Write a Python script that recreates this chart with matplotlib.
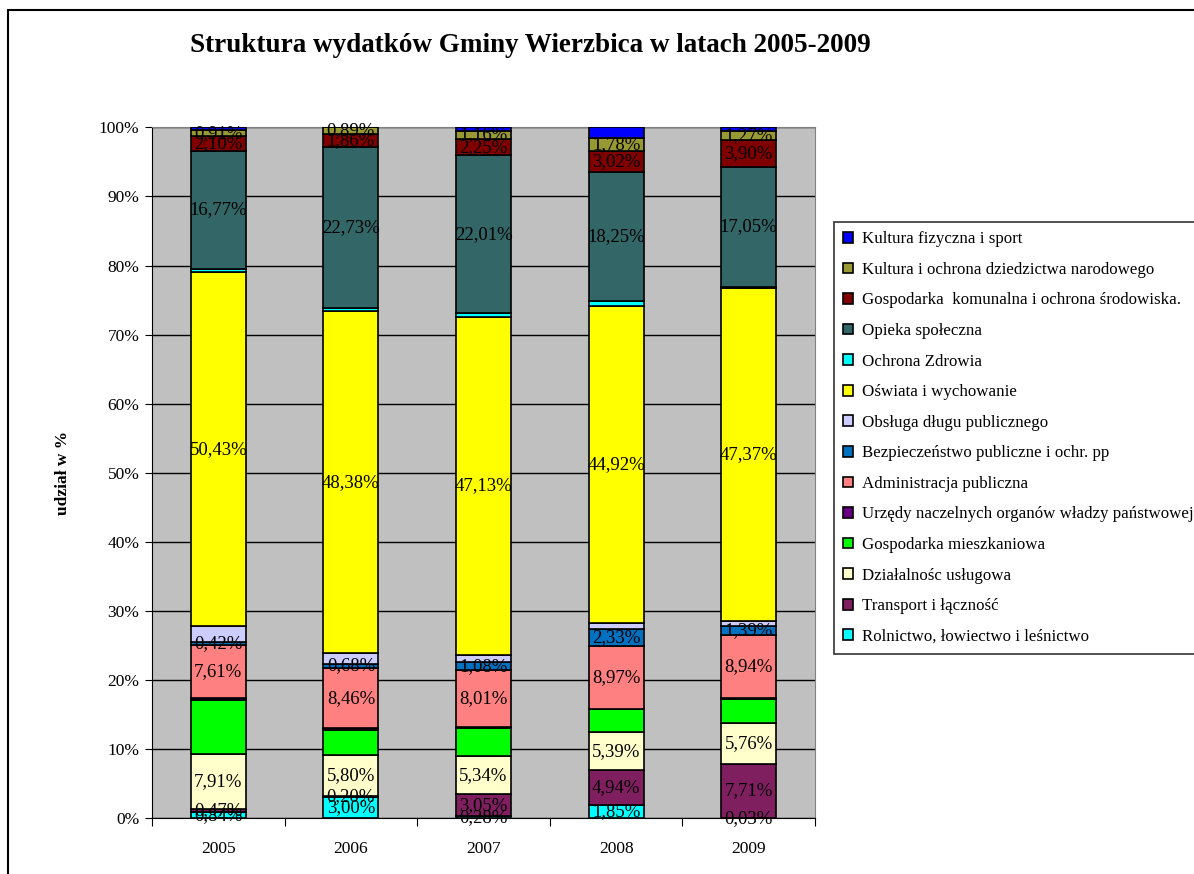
import matplotlib
matplotlib.use("Agg")
import matplotlib.pyplot as plt
from matplotlib.patches import Rectangle
import numpy as np

plt.rcParams['font.family'] = ['Liberation Serif', 'DejaVu Serif']

years = ['2005', '2006', '2007', '2008', '2009']

# series, bottom of the stack first
series = [
    'Rolnictwo, łowiectwo i leśnictwo',
    'Transport i łączność',
    'Działalnośc usługowa',
    'Gospodarka mieszkaniowa',
    'Urzędy naczelnych organów władzy państwowej',
    'Administracja publiczna',
    'Bezpieczeństwo publiczne i ochr. pp',
    'Obsługa długu publicznego',
    'Oświata i wychowanie',
    'Ochrona Zdrowia',
    'Opieka społeczna',
    'Gospodarka  komunalna i ochrona środowiska.',
    'Kultura i ochrona dziedzictwa narodowego',
    'Kultura fizyczna i sport',
]

rolnictwo = [0.84, 3.00, 0.28, 1.85, 0.03]
transport = [0.47, 0.20, 3.05, 4.94, 7.71]
uslugi = [7.91, 5.80, 5.34, 5.39, 5.76]
mieszkaniowa = [7.60, 3.50, 3.90, 3.20, 3.50]
urzedy = [0.30, 0.20, 0.10, 0.05, 0.10]
administracja = [7.61, 8.46, 8.01, 8.97, 8.94]
bezpieczenstwo = [0.42, 0.68, 1.08, 2.33, 1.39]
dlug = [2.20, 1.45, 1.06, 0.80, 0.70]
oswiata = [50.43, 48.38, 47.13, 44.92, 47.37]
zdrowie = [0.50, 0.45, 0.50, 0.60, 0.10]
opieka = [16.77, 22.73, 22.01, 18.25, 17.05]
komunalna = [2.10, 1.86, 2.25, 3.02, 3.90]
kultura = [0.91, 0.89, 1.16, 1.78, 1.27]
sport = [0.40, 0.00, 0.50, 1.55, 0.50]

values = [rolnictwo, transport, uslugi, mieszkaniowa, urzedy, administracja,
          bezpieczenstwo, dlug, oswiata, zdrowie, opieka, komunalna, kultura, sport]

colors = ['#00FFFF', '#7F1F5F', '#FFFFCC', '#00FF00', '#660080', '#FF8080',
          '#0070C0', '#CCCCFF', '#FFFF00', '#00FFFF', '#336666', '#800000',
          '#999933', '#0000FF']

# which series carry data labels
labelled = [True, True, True, False, False, True, True, False, True, False,
            True, True, True, False]

data = np.array(values, dtype=float)
share = data / data.sum(axis=0) * 100  # 100% stacked, like Excel

fig = plt.figure(figsize=(11.94, 8.74), dpi=100)
ax = fig.add_axes([152 / 1194, 1 - 818.3 / 874, 663 / 1194, 691 / 874])
ax.set_facecolor('#C0C0C0')

x = np.arange(len(years))
bottom = np.zeros(len(years))
bars = []
for i in range(len(series)):
    b = ax.bar(x, share[i], 0.415, bottom=bottom, color=colors[i],
               edgecolor='black', linewidth=1.2, label=series[i], zorder=3)
    bars.append(b)
    if labelled[i]:
        for j in range(len(years)):
            txt = ('%.2f%%' % values[i][j]).replace('.', ',')
            ax.text(x[j], bottom[j] + share[i][j] / 2, txt, ha='center',
                    va='center', fontsize=13.5, zorder=4)
    bottom += share[i]

ax.set_xlim(-0.5, len(years) - 0.5)
ax.set_ylim(0, 100)
ax.set_yticks(np.arange(0, 101, 10))
ax.set_yticklabels(['%d%%' % v for v in range(0, 101, 10)], fontsize=12.5)
ax.set_xticks(np.arange(-0.5, len(years), 1), minor=False)
ax.set_xticklabels([])
ax.set_xticks(x, minor=True)
ax.set_xticklabels(years, minor=True, fontsize=12.5)
ax.tick_params(axis='x', which='minor', length=0, pad=16)
ax.tick_params(axis='x', which='major', length=6, direction='out')
ax.tick_params(axis='y', length=5, direction='out', pad=4)
ax.yaxis.grid(True, color='black', linewidth=1, zorder=0)
ax.set_axisbelow(True)
for s in ['top', 'right']:
    ax.spines[s].set_color('#808080')
ax.spines['left'].set_color('black')
ax.spines['bottom'].set_color('black')

ax.set_ylabel('udział w %', fontsize=12.5, fontweight='bold', labelpad=20)

fig.text(0.444, 1 - 46 / 874, 'Struktura wydatków Gminy Wierzbica w latach 2005-2009',
         ha='center', va='center', fontsize=19.5, fontweight='bold')

handles = [b[0] for b in bars][::-1]
labels = series[::-1]
leg = fig.legend(handles, labels, loc='upper left',
                 bbox_to_anchor=(834 / 1194, 1 - 222 / 874), fontsize=12.2,
                 frameon=True, fancybox=False, edgecolor='black',
                 handlelength=0.6, handleheight=0.6, handletextpad=0.5,
                 labelspacing=0.86, borderpad=0.55, borderaxespad=0)
leg.get_frame().set_linewidth(1.2)

# outer chart frame
fig.add_artist(Rectangle((8 / 1194, -0.1), 1.5, 1.1 - 10 / 874,
                         transform=fig.transFigure, fill=False,
                         edgecolor='black', linewidth=1.5))

fig.savefig('out.png', dpi=100)
